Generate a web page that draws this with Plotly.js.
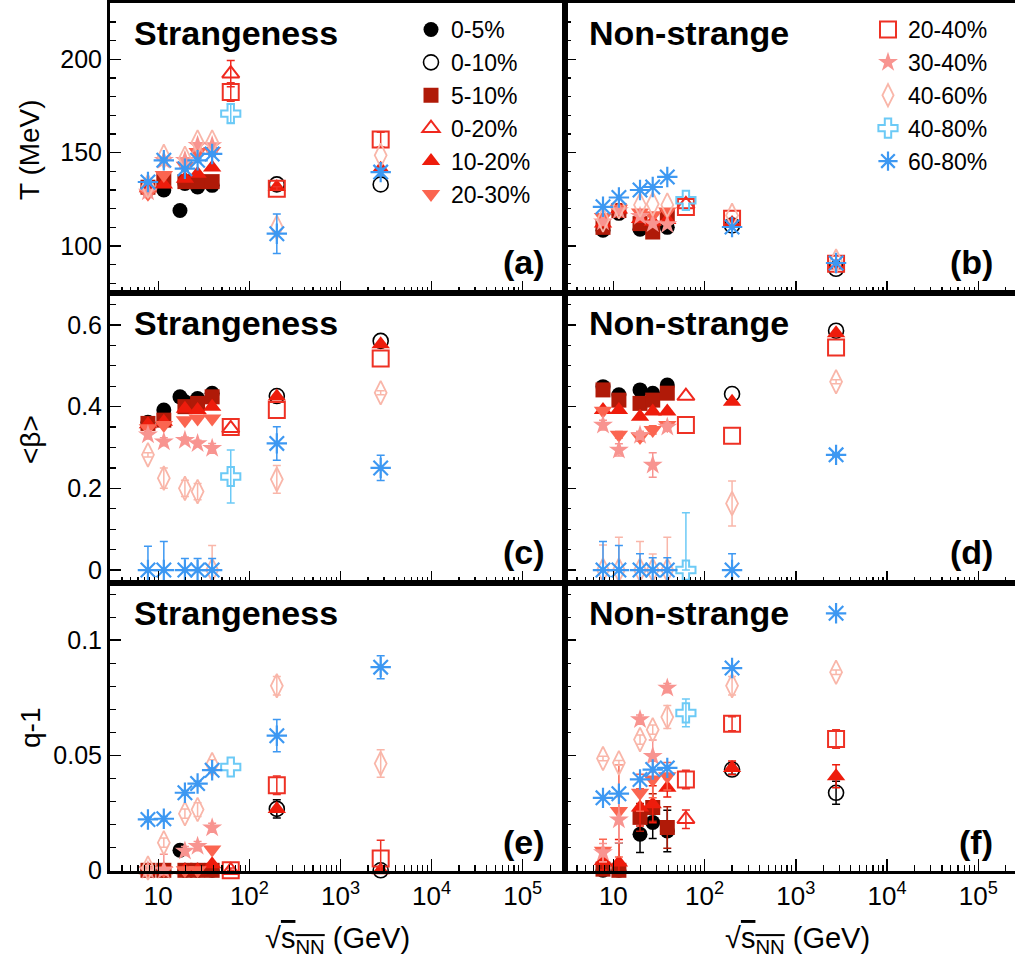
<!DOCTYPE html>
<html><head><meta charset="utf-8">
<script src="https://cdn.plot.ly/plotly-3.0.1.min.js"></script>
<style>html,body{margin:0;padding:0;background:#fff}</style>
</head><body><div id="chart" style="width:1015px;height:968px"></div>
<script>
// ---- energies (GeV) ----
const E_BES = [7.7, 11.5, 19.6, 27, 39];
const E_BES_SPS = [7.7, 11.5, 17.3, 19.6, 27, 39];
const E_62 = [62.4];
const E_HI = [200, 2760];
const E_62_HI = [62.4, 200, 2760];
const E_BES_HI = [7.7, 11.5, 19.6, 27, 39, 200, 2760];

// ---- 0-5% ----
const T_str_0_5 = [130.5, 130, 119, 133.5, 131.6, 132.5];
const T_non_0_5 = [108.5, 117.5, 109, 110, 110];
const B_str_0_5 = [0.362, 0.392, 0.424, 0.412, 0.42, 0.433];
const B_non_0_5 = [0.449, 0.429, 0.441, 0.433, 0.453];
const Q_str_0_5 = [0, 0, 0.0087, 0, 0, 0];
const Q_non_0_5 = [0, 0, 0.0157, 0.0208, 0.0171];
const eQ_str_0_5 = [0, 0, 0.002, 0, 0, 0];
const eQ_non_0_5 = [0.002, 0.012, 0.008, 0.007, 0.009];
// ---- 0-10% ----
const T_str_0_10 = [133, 133];
const T_non_0_10 = [111, 87.8];
const B_str_0_10 = [0.426, 0.561];
const B_non_0_10 = [0.431, 0.586];
const Q_str_0_10 = [0.0267, 0];
const Q_non_0_10 = [0.0438, 0.0337];
const eQ_str_0_10 = [0.004, 0.001];
const eQ_non_0_10 = [0.002, 0.005];
// ---- 5-10% ----
const T_str_5_10 = [131.5, 135, 134.5, 134.5, 134.5];
const T_non_5_10 = [110, 119, 112, 107.5, 116];
const B_str_5_10 = [0.359, 0.367, 0.4, 0.408, 0.424];
const B_non_5_10 = [0.441, 0.416, 0.408, 0.416, 0.433];
const Q_str_5_10 = [0, 0, 0, 0, 0];
const Q_non_5_10 = [0.0005, 0, 0.023, 0.0273, 0.0186];
const eQ_non_5_10 = [0.002, 0.004, 0.006, 0.006, 0.009];
// ---- 0-20% ----
const T_str_0_20 = [192.3];
const T_non_0_20 = [122.3];
const B_str_0_20 = [0.347];
const B_non_0_20 = [0.426];
const Q_str_0_20 = [0];
const Q_non_0_20 = [0.0222];
const eT_str_0_20 = [7];
const eQ_non_0_20 = [0.004];
// ---- 10-20% ----
const T_str_10_20 = [131, 133, 136, 138.7, 142, 131.6, 141.4];
const T_non_10_20 = [112, 119.5, 114.5, 113, 114, 112.3, 89.6];
const B_str_10_20 = [0.357, 0.363, 0.395, 0.392, 0.4, 0.425, 0.553];
const B_non_10_20 = [0.392, 0.392, 0.375, 0.388, 0.388, 0.412, 0.58];
const Q_str_10_20 = [0, 0, 0, 0, 0.0026, 0.0267, 0];
const Q_non_10_20 = [0.0041, 0.0034, 0.0273, 0.0287, 0.0359, 0.0445, 0.0409];
const eQ_non_10_20 = [0.004, 0.01, 0.008, 0.008, 0.004, 0.003, 0.005];
// ---- 20-30% ----
const T_str_20_30 = [128, 138, 143, 150.4, 150.9];
const T_non_20_30 = [115.5, 120, 118, 116.5, 118.5];
const B_str_20_30 = [0.347, 0.355, 0.367, 0.371, 0.371];
const B_non_20_30 = [0.39, 0.331, 0.326, 0.343, 0.355];
const Q_str_20_30 = [0, 0, 0, 0, 0.009];
const Q_non_20_30 = [0.0085, 0.0258, 0.0337, 0.0395, 0.0409];
const eB_non_20_30 = [0.006, 0.008, 0.01, 0.01, 0.008];
const eQ_non_20_30 = [0.005, 0.02, 0.008, 0.008, 0.006];
// ---- 20-40% ----
const T_str_20_40 = [182.5, 130.7, 157];
const T_non_20_40 = [120.9, 114.6, 90.5];
const B_str_20_40 = [0.35, 0.392, 0.518];
const B_non_20_40 = [0.355, 0.329, 0.545];
const Q_str_20_40 = [0, 0.037, 0.0051];
const Q_non_20_40 = [0.0395, 0.0637, 0.0571];
const eT_str_20_40 = [5, 1, 4];
const eQ_str_20_40 = [0.001, 0.004, 0.008];
const eQ_non_20_40 = [0.004, 0.003, 0.004];
// ---- 30-40% ----
const T_str_30_40 = [129, 146, 146, 154, 153.9];
const T_non_30_40 = [113, 119, 116, 112, 111.5];
const B_str_30_40 = [0.331, 0.314, 0.318, 0.31, 0.298];
const B_non_30_40 = [0.355, 0.294, 0.33, 0.257, 0.35];
const Q_str_30_40 = [0, 0, 0.0084, 0.0105, 0.0185];
const Q_non_30_40 = [0.0077, 0.022, 0.0655, 0.0496, 0.0792];
const eB_str_30_40 = [0.01, 0.01, 0.008, 0.008, 0.012];
const eB_non_30_40 = [0.012, 0.015, 0.01, 0.03, 0.01];
const eQ_str_30_40 = [0.001, 0.007, 0.002, 0.002, 0.002];
const eQ_non_30_40 = [0.004, 0.01, 0.002, 0.007, 0.002];
// ---- 40-60% ----
const T_str_40_60 = [132, 148, 147, 155.7, 155.7, 110, 148.6];
const T_non_40_60 = [114, 121, 122, 122.5, 122, 116.4, 92];
const B_str_40_60 = [0.282, 0.225, 0.2, 0.192, 0, 0.222, 0.434];
const B_non_40_60 = [0, 0, 0, 0, 0, 0.163, 0.461];
const Q_str_40_60 = [0.001, 0.012, 0.0246, 0.0264, 0.046, 0.0802, 0.0464];
const Q_non_40_60 = [0.0486, 0.0467, 0.0568, 0.0611, 0.0666, 0.0802, 0.0861];
const eB_str_40_60 = [0.005, 0.025, 0.02, 0.02, 0.06, 0.034, 0.005];
const eB_non_40_60 = [0.061, 0.08, 0.07, 0.039, 0.08, 0.055, 0.005];
const eQ_str_40_60 = [0.001, 0.002, 0.002, 0.003, 0.002, 0.004, 0.006];
const eQ_non_40_60 = [0.001, 0.001, 0.002, 0.002, 0.005, 0.004, 0.001];
// ---- 40-80% ----
const T_str_40_80 = [170.9];
const T_non_40_80 = [124.5];
const B_str_40_80 = [0.229];
const B_non_40_80 = [0];
const Q_str_40_80 = [0.0449];
const Q_non_40_80 = [0.0684];
const eT_str_40_80 = [5];
const eB_str_40_80 = [0.065];
const eB_non_40_80 = [0.14];
const eQ_non_40_80 = [0.006];
// ---- 60-80% ----
const T_str_60_80 = [134.3, 145.9, 141.4, 145.9, 149.3, 106.6, 139.6];
const T_non_60_80 = [121, 126, 130, 131.6, 137, 110.2, 90.9];
const B_str_60_80 = [0, 0, 0, 0, 0, 0.31, 0.25];
const B_non_60_80 = [0, 0, 0, 0, 0, 0, 0.282];
const Q_str_60_80 = [0.0221, 0.0224, 0.0337, 0.0377, 0.0435, 0.0585, 0.0883];
const Q_non_60_80 = [0.0315, 0.0333, 0.0395, 0.0438, 0.0445, 0.0879, 0.1117];
const eT_str_60_80 = [1, 1, 1, 1, 1, 10.6, 2];
const eB_str_60_80 = [0.058, 0.07, 0.028, 0.028, 0.028, 0.041, 0.031];
const eB_non_60_80 = [0.07, 0.06, 0.04, 0.03, 0.03, 0.04, 0.004];
const eQ_str_60_80 = [0.001, 0.001, 0.001, 0.001, 0.001, 0.007, 0.005];

// ---- labels ----
const panelTitles = ['Strangeness', 'Non-strange'];
const panelTags = ['(a)', '(b)', '(c)', '(d)', '(e)', '(f)'];
const yTitles = ['T (MeV)', '&lt;β&gt;', 'q-1'];
const xTickVals = [10, 100, 1000, 10000, 100000];
const xTickText = ['10', '10<sup>2</sup>', '10<sup>3</sup>', '10<sup>4</sup>', '10<sup>5</sup>'];

// ---- series definitions (style kept separate) ----
const series = [
  {name:'0-5%', xs:E_BES_SPS, xn:E_BES, d:[T_str_0_5,T_non_0_5,B_str_0_5,B_non_0_5,Q_str_0_5,Q_non_0_5], e:[null,null,null,null,eQ_str_0_5,eQ_non_0_5], leg:1,
   sty:{symbol:'circle', color:'#000000', size:15}},
  {name:'0-10%', xs:E_HI, xn:E_HI, d:[T_str_0_10,T_non_0_10,B_str_0_10,B_non_0_10,Q_str_0_10,Q_non_0_10], e:[null,null,null,null,eQ_str_0_10,eQ_non_0_10], leg:1,
   sty:{symbol:'circle-open', color:'#000000', size:15, lw:1.6}},
  {name:'5-10%', xs:E_BES, xn:E_BES, d:[T_str_5_10,T_non_5_10,B_str_5_10,B_non_5_10,Q_str_5_10,Q_non_5_10], e:[null,null,null,null,null,eQ_non_5_10], leg:1,
   sty:{symbol:'square', color:'#b01a08', size:15}},
  {name:'0-20%', xs:E_62, xn:E_62, d:[T_str_0_20,T_non_0_20,B_str_0_20,B_non_0_20,Q_str_0_20,Q_non_0_20], e:[eT_str_0_20,null,null,null,null,eQ_non_0_20], leg:1,
   sty:{symbol:'triangle-up-open', color:'#f0281e', size:15, lw:2}},
  {name:'10-20%', xs:E_BES_HI, xn:E_BES_HI, d:[T_str_10_20,T_non_10_20,B_str_10_20,B_non_10_20,Q_str_10_20,Q_non_10_20], e:[null,null,null,null,null,eQ_non_10_20], leg:1,
   sty:{symbol:'triangle-up', color:'#ee1c0c', size:16}},
  {name:'20-30%', xs:E_BES, xn:E_BES, d:[T_str_20_30,T_non_20_30,B_str_20_30,B_non_20_30,Q_str_20_30,Q_non_20_30], e:[null,null,null,eB_non_20_30,null,eQ_non_20_30], leg:1,
   sty:{symbol:'triangle-down', color:'#fb6550', size:16}},
  {name:'20-40%', xs:E_62_HI, xn:E_62_HI, d:[T_str_20_40,T_non_20_40,B_str_20_40,B_non_20_40,Q_str_20_40,Q_non_20_40], e:[eT_str_20_40,null,null,null,eQ_str_20_40,eQ_non_20_40], leg:2,
   sty:{symbol:'square-open', color:'#ee3124', size:16, lw:2}},
  {name:'30-40%', xs:E_BES, xn:E_BES, d:[T_str_30_40,T_non_30_40,B_str_30_40,B_non_30_40,Q_str_30_40,Q_non_30_40], e:[null,null,eB_str_30_40,eB_non_30_40,eQ_str_30_40,eQ_non_30_40], leg:2,
   sty:{symbol:'star', color:'#f89490', size:15}},
  {name:'40-60%', xs:E_BES_HI, xn:E_BES_HI, d:[T_str_40_60,T_non_40_60,B_str_40_60,B_non_40_60,Q_str_40_60,Q_non_40_60], e:[null,null,eB_str_40_60,eB_non_40_60,eQ_str_40_60,eQ_non_40_60], leg:2,
   sty:{symbol:'diamond-tall-open', color:'#f9b6a9', size:17, lw:1.8}},
  {name:'40-80%', xs:E_62, xn:E_62, d:[T_str_40_80,T_non_40_80,B_str_40_80,B_non_40_80,Q_str_40_80,Q_non_40_80], e:[eT_str_40_80,null,eB_str_40_80,eB_non_40_80,null,eQ_non_40_80], leg:2,
   sty:{symbol:'cross-open', color:'#6ccaf6', size:16, lw:2}},
  {name:'60-80%', xs:E_BES_HI, xn:E_BES_HI, d:[T_str_60_80,T_non_60_80,B_str_60_80,B_non_60_80,Q_str_60_80,Q_non_60_80], e:[eT_str_60_80,null,eB_str_60_80,eB_non_60_80,eQ_str_60_80,null], leg:2,
   sty:{symbol:'asterisk-open', color:'#3d98f2', size:17, lw:2.2}}
];

const traces = [];
series.forEach(s => {
  for (let p = 0; p < 6; p++) {
    const col = p % 2;
    const idx = p + 1;
    const ys = s.d[p];
    const err = s.e[p];
    const showLeg = (s.leg === 1 && p === 0) || (s.leg === 2 && p === 1);
    const t = {
      type: 'scatter', mode: 'markers', name: s.name,
      x: col === 0 ? s.xs : s.xn, y: ys,
      xaxis: 'x' + (idx === 1 ? '' : idx), yaxis: 'y' + (idx === 1 ? '' : idx),
      cliponaxis: false,
      showlegend: showLeg,
      legend: s.leg === 2 ? 'legend2' : 'legend',
      marker: {symbol: s.sty.symbol, size: s.sty.size, color: s.sty.color,
               line: {color: s.sty.color, width: s.sty.lw || 0}}
    };
    if (err) {
      t.error_y = {type: 'data', symmetric: false, array: err,
        arrayminus: err.map((v, i) => ys[i] === 0 ? 0 : v),
        color: s.sty.color, thickness: 1.5, width: 4};
    }
    traces.push(t);
  }
});

const W = 1015, H = 968;
const colDom = [[110 / W, 565 / W], [565 / W, 1]];
const rowDom = [[1 - 292.7 / H, 1 - 3.3 / H], [1 - 582.7 / H, 1 - 292.7 / H], [1 - 871 / H, 1 - 582.7 / H]];
const yRanges = [[75, 230], [-0.031, 0.679], [-0.0003, 0.125]];
const yDt = [50, 0.2, 0.05];
const yMinor = [10, 0.05, 0.01];
const minorX = [];
for (let d = 0; d <= 5; d++) for (let k = 2; k <= 9; k++) minorX.push(k * Math.pow(10, d));

const FONT = 'Liberation Sans, Arial, Helvetica, sans-serif';
const layout = {
  width: W, height: H,
  margin: {l: 0, r: 0, t: 0, b: 0},
  paper_bgcolor: '#fff', plot_bgcolor: 'rgba(0,0,0,0)',
  font: {family: FONT, color: '#000', size: 25},
  showlegend: true,
  legend: {x: 411 / W, y: 1 - 8 / H, xanchor: 'left', yanchor: 'top', bgcolor: 'rgba(0,0,0,0)',
           font: {family: FONT, size: 23, color: '#000'}, tracegroupgap: 0, itemwidth: 30},
  legend2: {x: 868 / W, y: 1 - 8 / H, xanchor: 'left', yanchor: 'top', bgcolor: 'rgba(0,0,0,0)',
           font: {family: FONT, size: 23, color: '#000'}, tracegroupgap: 0, itemwidth: 30},
  annotations: []
};

for (let p = 0; p < 6; p++) {
  const row = Math.floor(p / 2), col = p % 2, idx = p + 1;
  const sfx = idx === 1 ? '' : idx;
  layout['xaxis' + sfx] = {
    domain: colDom[col], type: 'log', range: col === 0 ? [0.47, 5.464] : [0.47, 5.402],
    anchor: 'y' + sfx, tickmode: 'array', tickvals: xTickVals, ticktext: xTickText,
    showticklabels: row === 2, ticks: 'inside', ticklen: 12, tickwidth: 1.5, tickcolor: '#000',
    minor: {tickmode: 'array', tickvals: minorX, ticks: 'inside', ticklen: 6, tickwidth: 1.2, tickcolor: '#000', showgrid: false},
    showline: true, mirror: true, linewidth: 3, linecolor: '#000', showgrid: false, zeroline: false,
    tickfont: {family: FONT, size: 26, color: '#000'}, fixedrange: true
  };
  layout['yaxis' + sfx] = {
    domain: rowDom[row], range: yRanges[row], anchor: 'x' + sfx,
    tick0: 0, dtick: yDt[row], showticklabels: col === 0,
    ticks: 'inside', ticklen: 11, tickwidth: 1.5, tickcolor: '#000',
    minor: {dtick: yMinor[row], tick0: 0, ticks: 'inside', ticklen: 6, tickwidth: 1.2, tickcolor: '#000', showgrid: false},
    showline: true, mirror: true, linewidth: 3, linecolor: '#000', showgrid: false, zeroline: false,
    tickfont: {family: FONT, size: 25, color: '#000'}, fixedrange: true
  };
  // panel title
  layout.annotations.push({xref: 'paper', yref: 'paper', x: (col === 0 ? 132 : 587) / W,
    y: 1 - (row * 290 + 33) / H, xanchor: 'left', yanchor: 'middle', showarrow: false,
    text: '<b>' + panelTitles[col] + '</b>', font: {family: FONT, size: 34, color: '#000'}});
  // panel tag
  layout.annotations.push({xref: 'paper', yref: 'paper', x: (col === 0 ? 547 : 995) / W,
    y: 1 - (row * 290 + 262) / H, xanchor: 'right', yanchor: 'middle', showarrow: false,
    text: '<b>' + panelTags[p] + '</b>', font: {family: FONT, size: 34, color: '#000'}});
}
// y titles
[150, 440, 728].forEach((yy, r) => {
  layout.annotations.push({xref: 'paper', yref: 'paper', x: 30 / W, y: 1 - yy / H,
    xanchor: 'center', yanchor: 'middle', textangle: -90, showarrow: false,
    text: yTitles[r], font: {family: FONT, size: 28, color: '#000'}});
});
// x titles
[337, 797].forEach(xx => {
  layout.annotations.push({xref: 'paper', yref: 'paper', x: xx / W, y: 1 - 940 / H,
    xanchor: 'center', yanchor: 'middle', showarrow: false,
    text: '√<span style="text-decoration:overline">s<sub>NN</sub></span> (GeV)',
    font: {family: FONT, size: 29, color: '#000'}});
});

Plotly.newPlot('chart', traces, layout, {staticPlot: true, displayModeBar: false});
</script></body></html>
